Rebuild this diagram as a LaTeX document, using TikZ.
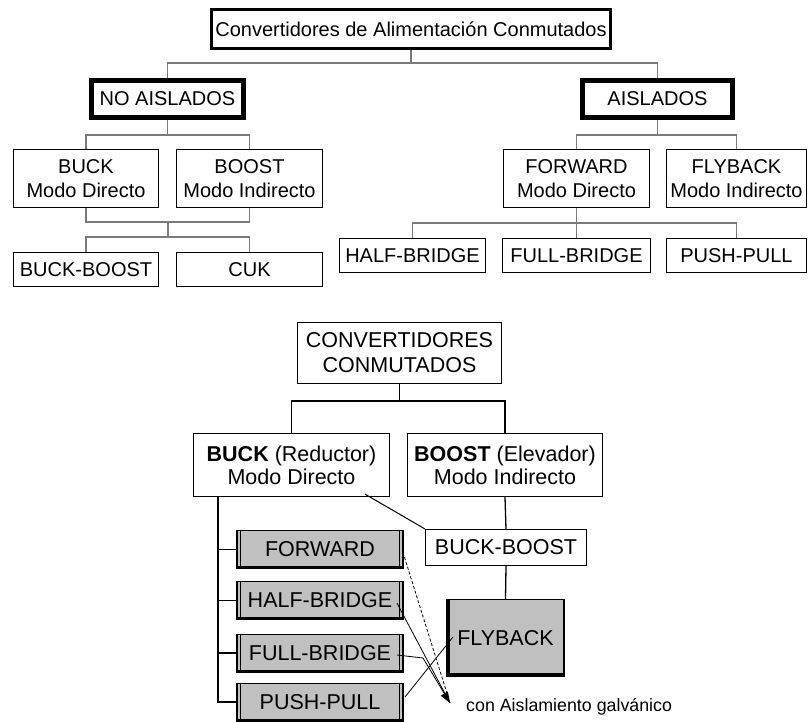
\documentclass[tikz,border=0pt]{standalone}
\usepackage{fontspec}
\setmainfont{Liberation Sans}
\usetikzlibrary{calc,arrows.meta}
\definecolor{boxgray}{HTML}{C0C0C0}
\definecolor{linegray}{HTML}{7A7A7A}
\begin{document}
\begin{tikzpicture}[x=1pt,y=-1pt,
  box/.style={draw, rectangle, inner sep=0pt, align=center, line width=1.2pt},
  topfont/.style={font=\fontsize{20}{24}\selectfont},
  lowfont/.style={font=\fontsize{21.5}{23}\selectfont},
  conn/.style={draw=linegray, line width=1.5pt},
  link/.style={draw=black, line width=1.3pt},
  graybox/.style={box, fill=boxgray, line width=1pt},
  fine/.style={draw=black, line width=0.8pt}
]
\useasboundingbox (0,0) rectangle (809,722);

% ---------------- upper tree ----------------
\node[box, topfont, line width=3pt, minimum width=399pt, minimum height=39pt] (title) at (411,29)
  {Convertidores de Alimentación Conmutados};
\node[box, topfont, line width=5pt, minimum width=152pt, minimum height=37pt] (noais) at (167.5,99) {NO AISLADOS};
\node[box, topfont, line width=5pt, minimum width=150pt, minimum height=37pt] (ais) at (657.5,99) {AISLADOS};

\node[box, topfont, minimum width=145pt, minimum height=58pt] (buckA) at (86,178.5) {BUCK\\Modo Directo};
\node[box, topfont, minimum width=146pt, minimum height=58pt] (boostA) at (249.5,178.5) {BOOST\\Modo Indirecto};
\node[box, topfont, minimum width=145pt, minimum height=34pt] (bbA) at (86,269.5) {BUCK-BOOST};
\node[box, topfont, minimum width=146pt, minimum height=34pt] (cuk) at (249.5,269.5) {CUK};

\node[box, topfont, minimum width=146pt, minimum height=58pt] (fwdA) at (576.5,178.5) {FORWARD\\Modo Directo};
\node[box, topfont, minimum width=140pt, minimum height=58pt] (flyA) at (736.5,178.5) {FLYBACK\\Modo Indirecto};
\node[box, topfont, minimum width=146pt, minimum height=34pt] (halfA) at (412.5,255.5) {HALF-BRIDGE};
\node[box, topfont, minimum width=148pt, minimum height=34pt] (fullA) at (576.5,255.5) {FULL-BRIDGE};
\node[box, topfont, minimum width=140pt, minimum height=34pt] (pushA) at (736.5,255.5) {PUSH-PULL};

% connectors of the upper tree
\draw[conn] (title.south) -- ++(0,13);
\draw[conn] (noais.north) |- ($(title.south)+(0,13)$) -| (ais.north);
\draw[conn] (noais.south) -- ++(0,15);
\draw[conn] (buckA.north) |- ($(noais.south)+(0,15)$) -| (boostA.north);
\draw[conn] (buckA.south) |- ($(buckA.south)+(0,14)$) -| (boostA.south);
\coordinate (midA) at ($(buckA.south)!0.5!(boostA.south)+(0,14)$);
\draw[conn] (midA) -- ++(0,15);
\draw[conn] (bbA.north) |- ($(midA)+(0,15)$) -| (cuk.north);
\draw[conn] (ais.south) -- ++(0,15);
\draw[conn] (fwdA.north) |- ($(ais.south)+(0,15)$) -| (flyA.north);
\draw[conn] (fwdA.south) -- (fullA.north);
\draw[conn] (halfA.north) |- ($(fwdA.south)+(0,15)$) -| (pushA.north);

% ---------------- lower tree ----------------
\node[box, lowfont, font=\fontsize{21.5}{25}\selectfont, minimum width=204pt, minimum height=61pt] (conv) at (399.5,353)
  {CONVERTIDORES\\CONMUTADOS};
\node[box, lowfont, minimum width=196pt, minimum height=63pt] (buckB) at (291.5,465)
  {\textbf{BUCK} (Reductor)\\Modo Directo};
\node[box, lowfont, minimum width=195pt, minimum height=63pt] (boostB) at (505,465)
  {\textbf{BOOST} (Elevador)\\Modo Indirecto};
\node[box, lowfont, minimum width=161pt, minimum height=36pt] (bbB) at (506,547.5) {BUCK-BOOST};

\node[graybox, lowfont, minimum width=118pt, minimum height=77pt] (flyB) at (505.5,638) {FLYBACK};
\draw[line width=4pt] ([xshift=2pt]flyB.north west) -- ([xshift=2pt]flyB.south west);
\draw[line width=4pt] ([yshift=2pt]flyB.south west) -- ([yshift=2pt]flyB.south east);
\draw[line width=2.5pt] ([xshift=-1.2pt]flyB.north east) -- ([xshift=-1.2pt]flyB.south east);

\foreach \n/\y/\t in {fwdB/549.5/FORWARD, halfB/600.5/HALF-BRIDGE, fullB/653/FULL-BRIDGE, pushB/702/PUSH-PULL}{
  \node[graybox, lowfont, minimum width=165pt, minimum height=38pt] (\n) at (320,\y) {\t};
  \draw[line width=1.5pt] (\n.north west) -- (\n.south west);
  \draw[line width=1pt] ([xshift=3.5pt]\n.north west) -- ([xshift=3.5pt]\n.south west);
  \draw[line width=1.5pt] (\n.north east) -- (\n.south east);
  \draw[line width=1pt] ([xshift=-3.5pt]\n.north east) -- ([xshift=-3.5pt]\n.south east);
  \draw[line width=3pt] ([yshift=1.5pt]\n.south west) -- ([yshift=1.5pt]\n.south east);
}

% connectors of the lower tree
\draw[link] (conv.south) -- ++(0,17);
\draw[link] (buckB.north) |- ($(conv.south)+(0,17)$) -| (boostB.north);
\coordinate (trunk) at ($(buckB.south west)+(25,0)$);
\draw[link] (trunk) |- (pushB.west);
\foreach \n in {fwdB, halfB, fullB}{
  \draw[link] (trunk |- \n.west) -- (\n.west);
}
\draw[link] (boostB.south) -- (bbB.north);
\draw[link] (bbB.south) -- (flyB.north);
\coordinate (diagStart) at ($(buckB.south west)+(172,-3)$);
\draw[link, line width=1pt] (diagStart) -- (bbB.north west);

% galvanic isolation pointer
\coordinate (tip) at (450,703);
\coordinate (cross) at (423,658);
\draw[fine, densely dashed] ($(fwdB.east)+(0,3)$) -- (tip);
\draw[fine] ($(halfB.east)+(-6,2.5)$) -- ($(halfB.east)+(0,14)$) -- (tip);
\draw[fine] ($(fullB.east)+(-6,2)$) -- (cross);
\draw[fine, -{Triangle[length=11pt,width=8pt]}] (cross) -- (tip);
\draw[fine] ($(pushB.north east)+(2,14.5)$) -- ($(flyB.west)+(7,-1)$);
\node[anchor=west, font=\fontsize{17.8}{20}\selectfont, inner sep=0pt] (note) at (466,707) {con Aislamiento galvánico};
\end{tikzpicture}
\end{document}
